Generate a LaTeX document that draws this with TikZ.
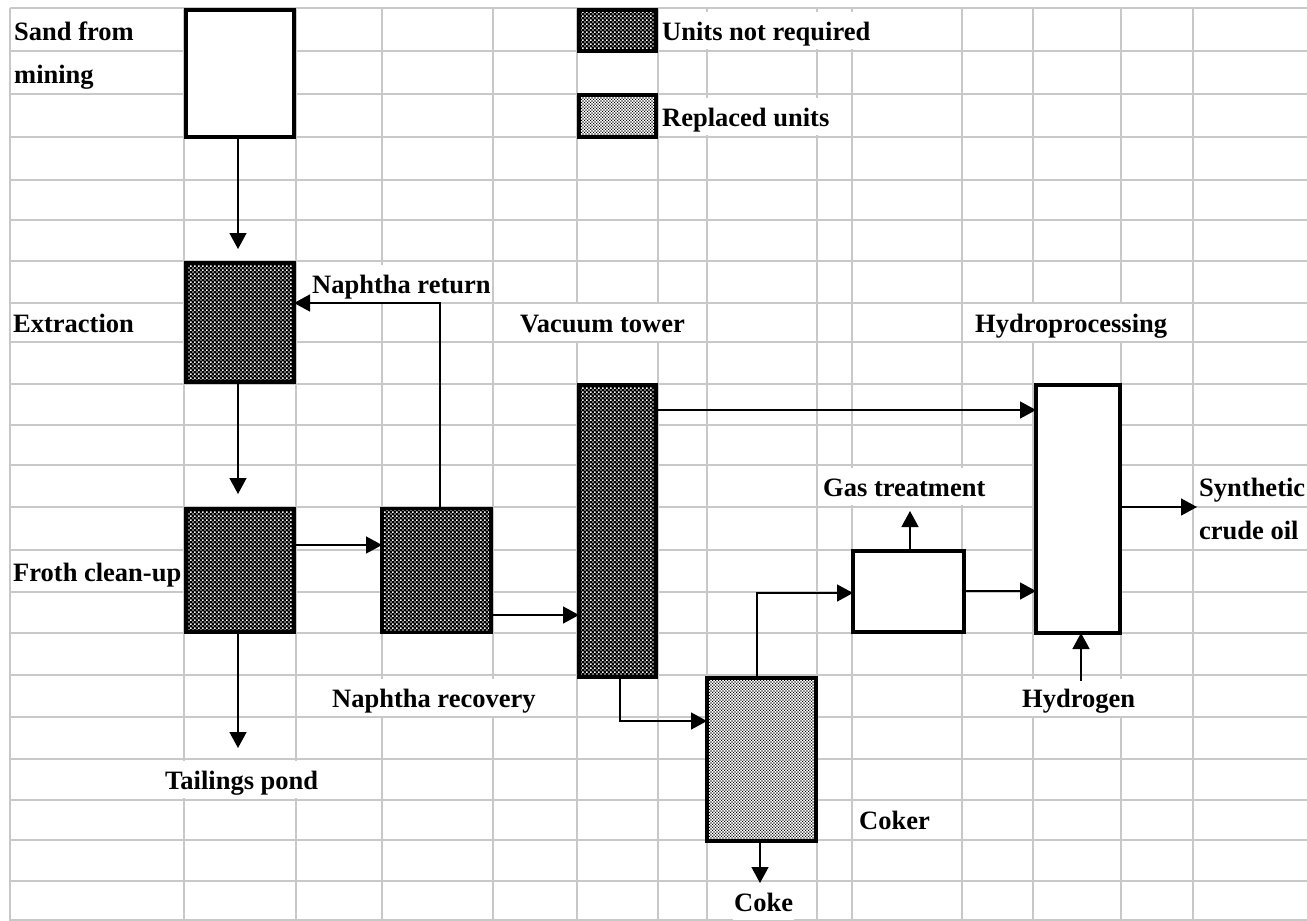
\documentclass[tikz,border=0pt]{standalone}
\usepackage{fontspec}
\setmainfont{Liberation Serif}
\usetikzlibrary{patterns.meta,arrows.meta}
\definecolor{gridgray}{HTML}{C8C8C8}

\tikzdeclarepattern{name=darkchk, type=uncolored,
  bounding box={(0pt,0pt) and (4.4pt,4.4pt)}, tile size={(4.4pt,4.4pt)},
  code={\fill (0.3pt,0.3pt) rectangle (1.9pt,1.9pt); \fill (2.5pt,2.5pt) rectangle (4.1pt,4.1pt);}}
\tikzdeclarepattern{name=lightdot, type=uncolored,
  bounding box={(0pt,0pt) and (3.4pt,3.4pt)}, tile size={(3.4pt,3.4pt)},
  code={\fill (0pt,0pt) rectangle (1.3pt,1.3pt); \fill (1.7pt,1.7pt) rectangle (3pt,3pt);}}

\tikzset{
  gridl/.style={draw=gridgray, line width=1.4pt},
  unitbox/.style={draw=black, line width=3.5pt, inner sep=0pt, outer sep=0pt},
  plainunit/.style={unitbox, fill=white},
  notreq/.style={unitbox, preaction={fill=black}, pattern=darkchk, pattern color=white},
  replaced/.style={unitbox, preaction={fill=white}, pattern=lightdot, pattern color=black},
  lbl/.style={anchor=base west, inner xsep=1pt, inner ysep=0pt, text height=28pt, text depth=9pt,
    fill=white, font=\bfseries\fontsize{26.5}{30}\selectfont},
  arr/.style={line width=1.5pt, -{Triangle[length=16pt,width=17pt]}},
}

\begin{document}
\begin{tikzpicture}[x=1pt,y=-1pt]
\useasboundingbox[fill=white] (0,0) rectangle (1307,921);

% spreadsheet grid
\foreach \x in {10,184,296,382,493,577,658,707,817,852,962,1033,1121,1193}
  \draw[gridl] (\x,8) -- (\x,921);
\foreach \y in {8,51,94,137,180,220,261,303,342,384,425,465,507,550,592,633,675,717,759,800,840,881,920}
  \draw[gridl] (10,\y) -- (1307,\y);

% labels
\node[lbl] (lsand) at (13,40) {Sand from};
\node[lbl] (lmine) at (13,83) {mining};
\node[lbl] (lnreq) at (661,40) {Units not required};
\node[lbl] (lrepl) at (661,126) {Replaced units};
\node[lbl] (lnret) at (311,293) {Naphtha return};
\node[lbl] (lext) at (12,332) {Extraction};
\node[lbl] (lvac) at (519,332) {Vacuum tower};
\node[lbl] (lhyd) at (974,332) {Hydroprocessing};
\node[lbl] (lgas) at (822,496) {Gas treatment};
\node[lbl] (lsyn) at (1198,496) {Synthetic};
\node[lbl] (lcru) at (1198,539) {crude oil};
\node[lbl] (lfro) at (12,581) {Froth clean-up};
\node[lbl] (lnrec) at (331,707) {Naphtha recovery};
\node[lbl] (lh2) at (1021,707) {Hydrogen};
\node[lbl] (ltail) at (164,789) {Tailings pond};
\node[lbl] (lcoker) at (858,829) {Coker};
\node[lbl] (lcoke) at (733,911) {Coke};

% units
\node[plainunit, minimum width=108pt, minimum height=127pt] (sand) at (240,73.5) {};
\node[notreq, minimum width=108pt, minimum height=119pt] (ext) at (240,322.5) {};
\node[notreq, minimum width=108pt, minimum height=123pt] (froth) at (240,570.5) {};
\node[notreq, minimum width=109pt, minimum height=124pt] (nrec) at (436.5,570.5) {};
\node[notreq, minimum width=77pt, minimum height=292pt] (vac) at (617.5,531) {};
\node[replaced, minimum width=109pt, minimum height=163pt] (coker) at (761.5,759.5) {};
\node[plainunit, minimum width=111pt, minimum height=81pt] (gas) at (908.5,591.5) {};
\node[plainunit, minimum width=84pt, minimum height=248pt] (hydro) at (1078,509) {};
\node[notreq, minimum width=77pt, minimum height=41pt] (leg1) at (617.5,30.5) {};
\node[replaced, minimum width=77pt, minimum height=42pt] (leg2) at (617.5,116) {};

% connector points
\coordinate (t1) at (238,249);
\coordinate (t2) at (238,494);
\coordinate (t3) at (238,748);
\coordinate (y545) at (0,545);
\coordinate (nretc) at (440,303);
\coordinate (y615) at (0,615);
\coordinate (y410) at (0,410);
\coordinate (vcb) at (620,721);
\coordinate (cg) at (757,593);
\coordinate (gt) at (910,511);
\coordinate (y591) at (0,591);
\coordinate (st) at (1197,507);
\coordinate (hb) at (1081,681);
\coordinate (ck) at (760,883);

% connectors
\draw[arr] (sand.south -| t1) -- (t1);
\draw[arr] (ext.south -| t2) -- (t2);
\draw[arr] (froth.south -| t3) -- (t3);
\draw[arr] (froth.east |- y545) -- (nrec.west |- y545);
\draw[arr] (nrec.north -| nretc) -- (nretc) -- (ext.east |- nretc);
\draw[arr] (nrec.east |- y615) -- (vac.west |- y615);
\draw[arr] (vac.east |- y410) -- (hydro.west |- y410);
\draw[arr] (vac.south -| vcb) -- (vcb) -- (coker.west |- vcb);
\draw[arr] (coker.north -| cg) -- (cg) -- (gas.west |- cg);
\draw[arr] (gas.north -| gt) -- (gt);
\draw[arr] (gas.east |- y591) -- (hydro.west |- y591);
\draw[arr] (hydro.east |- st) -- (st);
\draw[arr] (hb) -- (hydro.south -| hb);
\draw[arr] (coker.south -| ck) -- (ck);
\end{tikzpicture}
\end{document}
